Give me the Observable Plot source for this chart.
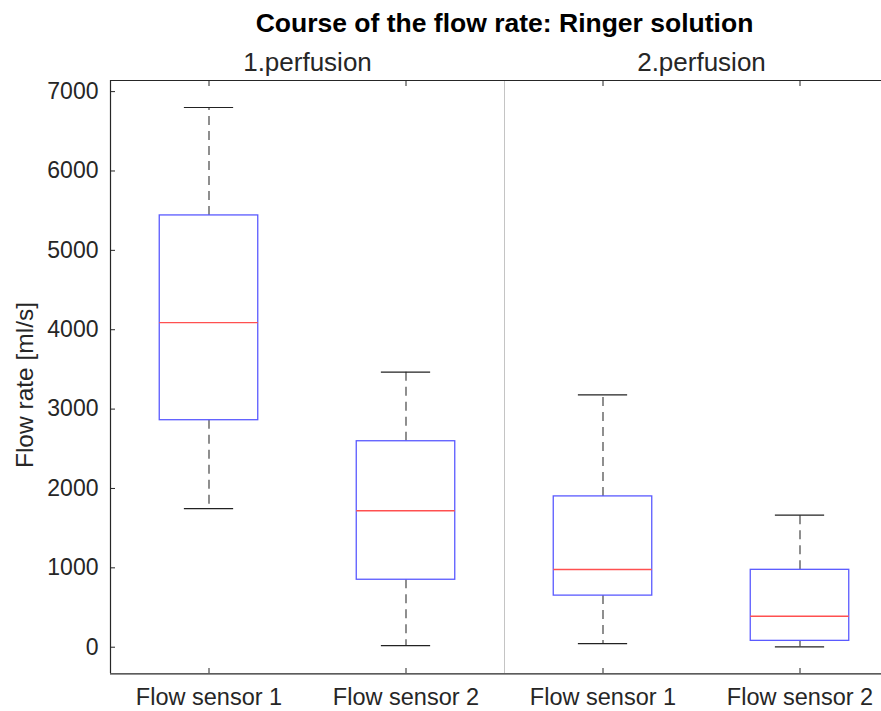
<!DOCTYPE html>
<html><head><meta charset="utf-8">
<script src="https://cdn.jsdelivr.net/npm/d3@7"></script>
<script src="https://cdn.jsdelivr.net/npm/@observablehq/plot@0.6"></script>
<style>
body{margin:0;overflow:hidden;background:#fff}
svg{font-family:"Liberation Sans",Arial,sans-serif}
</style>
</head><body><div id="chart"></div>
<script>
// ---- data ----
const positions = [1, 2, 3, 4];
const sensorLabels = ["Flow sensor 1", "Flow sensor 2", "Flow sensor 1", "Flow sensor 2"];
const perfusionLabels = ["1.perfusion", "2.perfusion"];
const perfusionCenters = [1.5, 3.5];
const upperWhisker = [6800, 3465, 3180, 1665];
const q3Values = [5440, 2595, 1900, 975];
const medianValues = [4090, 1720, 980, 390];
const q1Values = [2860, 850, 650, 80];
const lowerWhisker = [1745, 20, 45, 5];
const yTicks = [0, 1000, 2000, 3000, 4000, 5000, 6000, 7000];
const titleText = "Course of the flow rate: Ringer solution";
const yLabel = "Flow rate [ml/s]";
const xDomain = [0.5, 4.5];
const yDomain = [-335, 7140];

const boxes = positions.map((p, i) => ({
  pos: p, label: sensorLabels[i],
  hi: upperWhisker[i], q3: q3Values[i], med: medianValues[i], q1: q1Values[i], lo: lowerWhisker[i]
}));
const xCenter = (xDomain[0] + xDomain[1]) / 2;
const axisColor = "#262626";

const chart = Plot.plot({
  width: 881, height: 711,
  marginLeft: 110, marginRight: 0, marginTop: 80, marginBottom: 38,
  style: {fontFamily: '"Liberation Sans", Arial, sans-serif', fontSize: "23px", color: axisColor, background: "#fff"},
  x: {domain: xDomain, range: [110, 898]},
  y: {domain: yDomain, range: [673.3, 80]},
  marks: [
    Plot.ruleX([2.5], {stroke: "#c4c4c4", strokeWidth: 1}),
    // whiskers
    Plot.ruleX(boxes, {x: "pos", y1: "q3", y2: "hi", stroke: "#333", strokeWidth: 1.1, strokeDasharray: "9,6"}),
    Plot.ruleX(boxes, {x: "pos", y1: "q1", y2: "lo", stroke: "#333", strokeWidth: 1.1, strokeDasharray: "9,6"}),
    Plot.ruleY(boxes, {y: "hi", x1: d => d.pos - 0.125, x2: d => d.pos + 0.125, stroke: "#222", strokeWidth: 1.2}),
    Plot.ruleY(boxes, {y: "lo", x1: d => d.pos - 0.125, x2: d => d.pos + 0.125, stroke: "#222", strokeWidth: 1.2}),
    // boxes
    Plot.rect(boxes, {x1: d => d.pos - 0.25, x2: d => d.pos + 0.25, y1: "q1", y2: "q3", fill: "none", stroke: "#5a5aff", strokeWidth: 1.3}),
    Plot.ruleY(boxes, {y: "med", x1: d => d.pos - 0.25, x2: d => d.pos + 0.25, stroke: "#ff5050", strokeWidth: 1.4}),
    // frame lines
    Plot.ruleX([xDomain[0]], {stroke: axisColor, strokeWidth: 1.2}),
    Plot.ruleY([yDomain[0]], {stroke: axisColor, strokeWidth: 1.2}),
    Plot.ruleY([yDomain[1]], {stroke: axisColor, strokeWidth: 1.2}),
    // axes
    Plot.axisY({ticks: yTicks, tickSize: -5, tickPadding: 17, label: null, fontSize: 23, tickFormat: d => String(d)}),
    Plot.axisX({anchor: "bottom", ticks: positions, tickSize: -5, tickPadding: 20, label: null, fontSize: 23.5, tickFormat: d => sensorLabels[d - 1]}),
    Plot.axisX({anchor: "top", ticks: positions, tickSize: -5, label: null, tickFormat: () => ""}),
    // titles
    Plot.text([titleText], {x: () => xCenter, frameAnchor: "top", lineAnchor: "middle", dy: -57, fontSize: 26.5, fontWeight: "bold", fill: "#000"}),
    Plot.text(perfusionLabels, {x: (d, i) => perfusionCenters[i], frameAnchor: "top", lineAnchor: "middle", dy: -18, fontSize: 26, fill: axisColor}),
    Plot.text([yLabel], {frameAnchor: "left", textAnchor: "middle", lineAnchor: "middle", rotate: -90, dx: -85, dy: 8, fontSize: 24.5, fill: axisColor})
  ]
});
document.getElementById("chart").appendChild(chart);
</script>
</body></html>
